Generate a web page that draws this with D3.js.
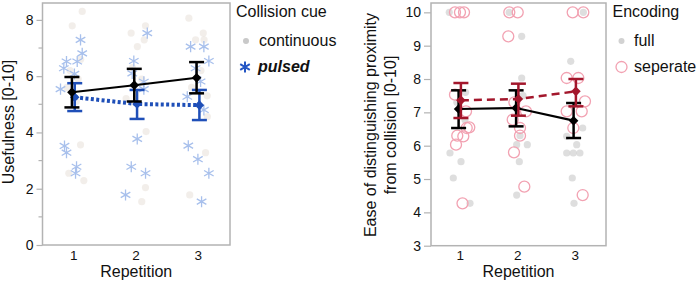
<!DOCTYPE html>
<html>
<head>
<meta charset="utf-8">
<script src="https://cdn.jsdelivr.net/npm/d3@7"></script>
<style>
  body { margin: 0; background: white; }
  svg { font-family: "Liberation Sans", Arial, Helvetica, sans-serif; }
</style>
</head>
<body>
<div id="Canvas"></div>
<script>
// ---- data ----
const reps = [1, 2, 3]

// left panel: usefulness, [x (repetition + jitter), y]
const contPoints = [
  [1.145,8.3],[0.985,7.79],[1.12,6.6],[0.95,6.2],[1.08,5.9],[0.9,5.6],[1.05,5.1],[1.118,3.56],[0.93,2.55],[1.171,2.29],
  [2.16,7.79],[1.93,7.53],[2.14,7.29],[2.03,7.05],[1.95,6.3],[2.1,5.9],[1.85,5.2],[2.17,4.03],[2.16,2.04],[2.1,1.54],
  [2.856,8.06],[3.087,7.53],[2.964,7.29],[3.1,7.29],[3.05,6.2],[2.9,5.6],[3.15,5.3],[3.152,4.56],[3.124,3.28],[2.87,1.78]
]
const pulsedPoints = [
  [1.118,7.29],[1.145,6.81],[0.893,6.52],[1.065,6.52],[0.85,6.28],[1.02,6.08],[0.797,5.54],[0.861,3.52],[0.893,3.28],[1.054,2.78],[1.038,2.55],
  [2.189,7.53],[1.973,6.54],[1.948,6.1],[2.134,5.8],[2.134,5.54],[2.028,3.77],[1.932,2.78],[2.161,2.55],[1.84,1.78],
  [2.884,7.05],[3.097,7.05],[3.177,6.54],[2.964,6.28],[3.044,5.81],[2.831,5.27],[3.097,4.8],[2.847,3.53],[3.001,3.05],[3.177,2.55],[3.06,1.54]
]
const contMean = [5.43, 5.68, 5.94]
const contLo   = [4.89, 5.10, 5.39]
const contHi   = [5.97, 6.26, 6.50]
const pulsedMean = [5.25, 5.01, 4.97]
const pulsedLo   = [4.76, 4.48, 4.44]
const pulsedHi   = [5.75, 5.51, 5.51]

// right panel: ease of distinguishing
const fullPoints = [
  [0.818,10],[0.95,7.3],[1.1,7.6],[1.091,6.78],[0.83,5.78],[1.022,5.52],[0.888,5.03],[1.178,4.27],
  [1.86,10],[2.077,9.28],[2.077,8.03],[2.1,7.5],[2.048,6.3],[2.175,6.03],[1.99,6.03],[2.036,5.52],[1.99,4.52],
  [3.15,10],[2.93,8.53],[3.138,6.53],[2.86,6.28],[3.034,6.03],[2.86,5.78],[2.975,5.78],[3.09,5.78],[2.957,5.03],[2.987,4.27]
]
const sepPoints = [
  [0.917,10],[1.004,10],[1.074,10],[0.917,7.53],[1.109,7.03],[1.166,6.55],[1.121,6.53],[0.957,6.3],[1.062,6.28],[0.935,6.03],[1.048,4.27],
  [1.862,10],[2.008,10],[1.844,9.28],[1.95,7.3],[2.152,7.03],[1.921,6.78],[2.048,6.53],[2.048,6.3],[1.943,5.8],[2.123,4.77],
  [2.964,10],[3.149,10],[2.86,8.03],[3.062,8.03],[3.178,7.33],[2.86,7.03],[3.121,7.03],[2.975,6.53],[3.138,4.52]
]
const fullMean = [7.10, 7.13, 6.75]
const fullLo   = [6.53, 6.58, 6.23]
const fullHi   = [7.66, 7.66, 7.28]
const sepMean  = [7.36, 7.40, 7.63]
const sepLo    = [6.83, 6.90, 7.18]
const sepHi    = [7.88, 7.86, 8.00]

// ---- svg ----
const svg = d3.select("#Canvas").append("svg")
  .attr("width", 699).attr("height", 286)

const grey = "#b3b3b3"
const diamond = d3.symbol().type(d3.symbolSquare).size(46)
const star = d3.symbol().type(d3.symbolAsterisk).size(86)

function drawFrame(g, x, y, x0, x1, y0, y1, yTicks, minorTicks, tickLen) {
  g.append("rect").attr("x", x0).attr("y", y1).attr("width", x1 - x0).attr("height", y0 - y1)
    .attr("fill", "none").attr("stroke", grey).attr("stroke-width", 1.5)
  const ya = g.append("g").attr("transform", `translate(${x0},0)`)
    .call(d3.axisLeft(y).tickValues(yTicks).tickSize(tickLen).tickPadding(3).tickFormat(d3.format("d")))
  ya.select(".domain").remove()
  ya.selectAll("line").attr("stroke", grey).attr("stroke-width", 1.2)
  ya.selectAll("text").attr("font-size", 14).attr("fill", "#111")
  if (minorTicks.length) {
    g.selectAll(".minor").data(minorTicks).enter().append("line")
      .attr("x1", x0 - 4).attr("x2", x0)
      .attr("y1", d => y(d)).attr("y2", d => y(d))
      .attr("stroke", grey).attr("stroke-width", 1.2)
  }
  const xa = g.append("g").attr("transform", `translate(0,${y0})`)
    .call(d3.axisBottom(x).tickValues(reps).tickSize(0).tickPadding(5).tickFormat(d3.format("d")))
  xa.select(".domain").remove()
  xa.selectAll("text").attr("font-size", 13.5).attr("fill", "#111")
  g.append("text").attr("x", (x0 + x1) / 2).attr("y", 277).attr("text-anchor", "middle")
    .attr("font-size", 16).attr("fill", "#111").text("Repetition")
}

function drawMeans(g, x, y, mean, lo, hi, dodge, color, lineWidth, dash) {
  const line = d3.line().x((d, i) => x(reps[i] + dodge)).y(d => y(d))
  g.append("path").attr("d", line(mean)).attr("fill", "none")
    .attr("stroke", color).attr("stroke-width", lineWidth).attr("stroke-dasharray", dash)
  const eb = g.append("g")
  reps.forEach((r, i) => {
    const cx = x(r + dodge)
    eb.append("line").attr("x1", cx).attr("x2", cx).attr("y1", y(lo[i])).attr("y2", y(hi[i]))
      .attr("stroke", color).attr("stroke-width", 2.5)
    ;[lo[i], hi[i]].forEach(v => {
      eb.append("line").attr("x1", cx - 7.5).attr("x2", cx + 7.5).attr("y1", y(v)).attr("y2", y(v))
        .attr("stroke", color).attr("stroke-width", 2.5)
    })
  })
  g.selectAll(null).data(mean).enter().append("path")
    .attr("d", diamond)
    .attr("transform", (d, i) => `translate(${x(reps[i] + dodge)},${y(d)}) rotate(45)`)
    .attr("fill", color)
}

// ---- left panel ----
const L = svg.append("g")
const lx = d3.scaleLinear().domain([0.5, 3.5]).range([42, 229])
const ly = d3.scaleLinear().domain([0, 8.6]).range([245, 3])
drawFrame(L, lx, ly, 42.5, 230, 245, 3, [0, 2, 4, 6, 8], [1, 3, 5, 7], 6)

L.append("text").attr("transform", "translate(14,122) rotate(-90)")
  .attr("text-anchor", "middle").attr("font-size", 16).attr("fill", "#111").text("Usefulness [0-10]")

L.selectAll(".cont").data(contPoints).enter().append("circle")
  .attr("cx", d => lx(d[0])).attr("cy", d => ly(d[1])).attr("r", 3.6)
  .attr("fill", "#d9cfc4").attr("opacity", 0.35)
L.selectAll(".puls").data(pulsedPoints).enter().append("path")
  .attr("d", star).attr("transform", d => `translate(${lx(d[0])},${ly(d[1])})`)
  .attr("fill", "none").attr("stroke", "#a8c0ec").attr("stroke-width", 1.3)

drawMeans(L, lx, ly, pulsedMean, pulsedLo, pulsedHi, 0.025, "#1f4fb8", 4, "3,2.4")
drawMeans(L, lx, ly, contMean, contLo, contHi, -0.02, "#000", 2, null)

// left legend
L.append("text").attr("x", 236).attr("y", 17).attr("font-size", 16).attr("fill", "#111").text("Collision cue")
L.append("circle").attr("cx", 246).attr("cy", 41).attr("r", 3).attr("fill", "#c9c9c9")
L.append("text").attr("x", 259).attr("y", 46).attr("font-size", 16).attr("fill", "#111").text("continuous")
L.append("path").attr("d", star).attr("transform", "translate(245,67)")
  .attr("fill", "none").attr("stroke", "#2456c4").attr("stroke-width", 2)
L.append("text").attr("x", 258).attr("y", 72).attr("font-size", 16).attr("font-weight", "bold")
  .attr("font-style", "italic").attr("fill", "#111").text("pulsed")

// ---- right panel ----
const R = svg.append("g")
const rx = d3.scaleLinear().domain([0.5, 3.5]).range([431, 603.5])
const ry = d3.scaleLinear().domain([3, 10.28]).range([245.7, 3])
drawFrame(R, rx, ry, 431, 606, 245.7, 3, d3.range(3, 11), [], 7)

R.append("text").attr("transform", "translate(376,125) rotate(-90)")
  .attr("text-anchor", "middle").attr("font-size", 16).attr("fill", "#111").text("Ease of distinguishing proximity")
R.append("text").attr("transform", "translate(396,125) rotate(-90)")
  .attr("text-anchor", "middle").attr("font-size", 16).attr("fill", "#111").text("from collision [0-10]")

R.selectAll(".full").data(fullPoints).enter().append("circle")
  .attr("cx", d => rx(d[0])).attr("cy", d => ry(d[1])).attr("r", 3.6)
  .attr("fill", "#bdbdbd").attr("opacity", 0.5)
R.selectAll(".sep").data(sepPoints).enter().append("circle")
  .attr("cx", d => rx(d[0])).attr("cy", d => ry(d[1])).attr("r", 5.5)
  .attr("fill", "none").attr("stroke", "#f2a2b2").attr("stroke-width", 1.3)

drawMeans(R, rx, ry, fullMean, fullLo, fullHi, -0.02, "#000", 2.2, null)
drawMeans(R, rx, ry, sepMean, sepLo, sepHi, 0.02, "#a3172c", 2.5, "8,5")

// right legend
R.append("text").attr("x", 612.5).attr("y", 17).attr("font-size", 16).attr("fill", "#111").text("Encoding")
R.append("circle").attr("cx", 621.5).attr("cy", 41).attr("r", 3).attr("fill", "#d2d2d2")
R.append("text").attr("x", 634).attr("y", 46).attr("font-size", 16).attr("fill", "#111").text("full")
R.append("circle").attr("cx", 621.5).attr("cy", 67).attr("r", 5.5)
  .attr("fill", "none").attr("stroke", "#f2a2b2").attr("stroke-width", 1.3)
R.append("text").attr("x", 634).attr("y", 72).attr("font-size", 16).attr("fill", "#111").text("seperate")
</script>
</body>
</html>
